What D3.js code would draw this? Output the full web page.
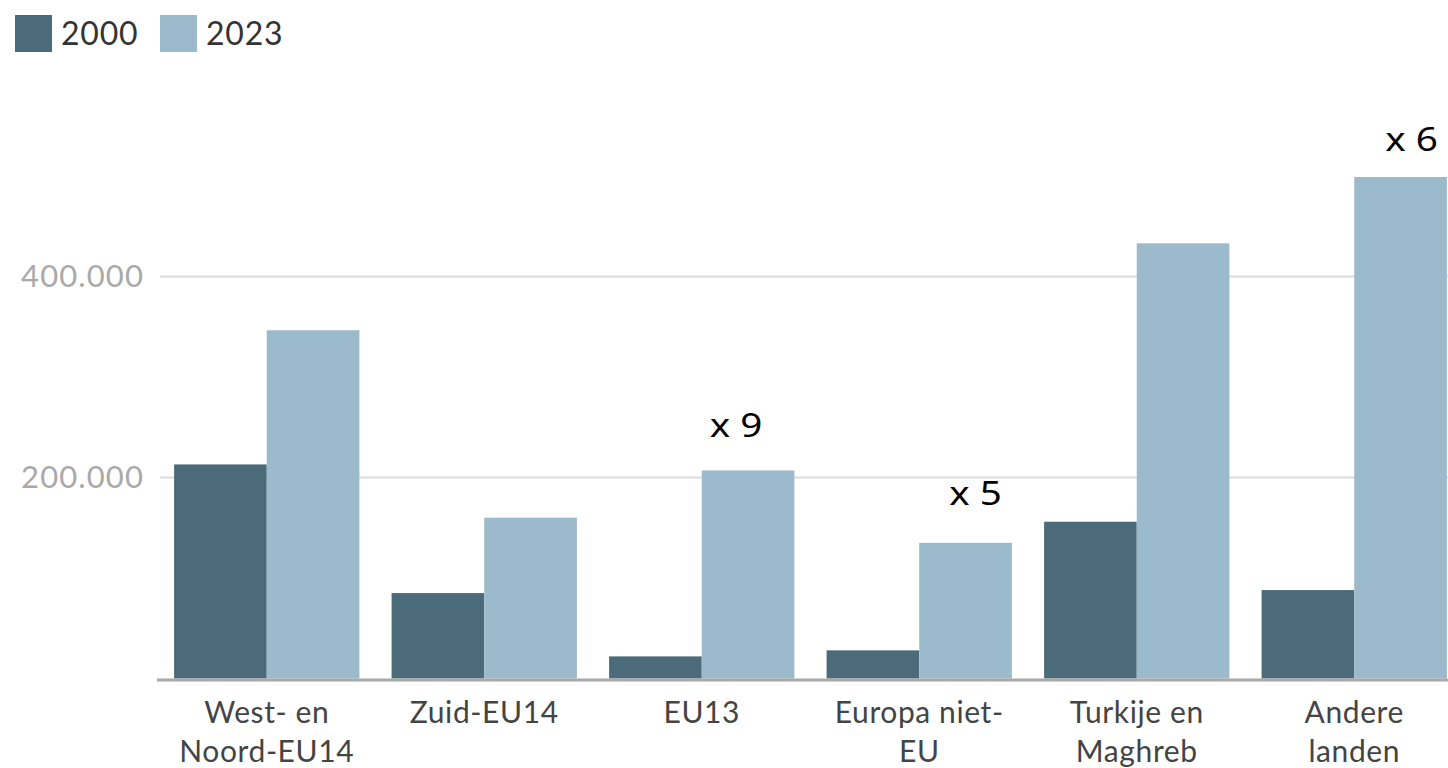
<!DOCTYPE html>
<html>
<head>
<meta charset="utf-8">
<script src="https://cdn.jsdelivr.net/npm/d3@7/dist/d3.min.js"></script>
<style>
  html, body { margin: 0; padding: 0; background: #fff; }
  svg { display: block; }
</style>
</head>
<body>
<svg id="chart" width="1448" height="768"></svg>
<script>
// ---- data ----
const categories = [
  ["West- en", "Noord-EU14"],
  ["Zuid-EU14"],
  ["EU13"],
  ["Europa niet-", "EU"],
  ["Turkije en", "Maghreb"],
  ["Andere", "landen"]
];
const seriesNames = ["2000", "2023"];
const values2000 = [213000, 85000, 22000, 28000, 156000, 88000];
const values2023 = [346500, 160000, 207000, 135000, 433000, 499000];
const yTicks = [200000, 400000];
const tickLabels = ["200.000", "400.000"];
const annotations = [
  { cat: 2, text: "x 9" },
  { cat: 3, text: "x 5" },
  { cat: 5, text: "x 6" }
];

// ---- layout / style ----
const colors = ["#4b6b7b", "#9bbacb"];
const svg = d3.select("#chart");
const W = 1448, H = 768;
const baseY = 678.5;

const x0 = d3.scaleBand()
  .domain(d3.range(categories.length))
  .range([158, 1463])
  .paddingInner(0.148)
  .paddingOuter(0.074);
const x1 = d3.scaleBand()
  .domain(seriesNames)
  .range([0, x0.bandwidth()]);
const y = d3.scaleLinear()
  .domain([0, 200000])
  .range([baseY, baseY - 201]);

// gridlines
svg.append("g").selectAll("line").data(yTicks).join("line")
  .attr("x1", 160).attr("x2", W)
  .attr("y1", d => y(d)).attr("y2", d => y(d))
  .attr("stroke", "#dcdcdc").attr("stroke-width", 2);

// y tick labels
svg.append("g").selectAll("text").data(yTicks).join("text")
  .attr("x", 144).attr("y", d => y(d))
  .attr("dy", "0.35em")
  .attr("text-anchor", "end")
  .attr("font-family", "Lato, sans-serif")
  .attr("font-size", 31)
  .attr("letter-spacing", 1.1)
  .attr("fill", "#a9a9a9")
  .text((d, i) => tickLabels[i]);

// bars
const rows = categories.map((c, i) => ({ i, vals: [values2000[i], values2023[i]] }));
const groups = svg.append("g").selectAll("g").data(rows).join("g")
  .attr("transform", d => `translate(${x0(d.i)},0)`);
groups.selectAll("rect")
  .data(d => d.vals.map((v, k) => ({ key: seriesNames[k], v, k })))
  .join("rect")
  .attr("x", d => x1(d.key))
  .attr("width", x1.bandwidth())
  .attr("y", d => y(d.v))
  .attr("height", d => y(0) - y(d.v))
  .attr("fill", d => colors[d.k]);

// baseline axis
svg.append("line")
  .attr("x1", 157).attr("x2", W)
  .attr("y1", baseY + 1.5).attr("y2", baseY + 1.5)
  .attr("stroke", "#a8a8a8").attr("stroke-width", 3);

// x labels
const xl = svg.append("g").selectAll("text").data(categories).join("text")
  .attr("text-anchor", "middle")
  .attr("font-family", "Lato, sans-serif")
  .attr("font-size", 30)
  .attr("letter-spacing", 0.6)
  .attr("fill", "#444")
  .attr("transform", (d, i) => `translate(${x0(i) + x0.bandwidth() / 2},723)`);
xl.selectAll("tspan").data(d => d).join("tspan")
  .attr("x", 0)
  .attr("dy", (d, j) => j === 0 ? 0 : 39)
  .text(d => d);

// annotations
const annoDx = [-12, 10, 11];
const annoDy = [-33, -38, -26];
svg.append("g").selectAll("text").data(annotations).join("text")
  .attr("transform", (d, i) => {
    const ax = x0(d.cat) + x1("2023") + x1.bandwidth() / 2 + annoDx[i];
    const ay = y(values2023[d.cat]) + annoDy[i];
    return `translate(${ax},${ay}) scale(1.17,1)`;
  })
  .attr("text-anchor", "middle")
  .attr("font-family", "'Noto Sans', 'Open Sans', sans-serif")
  .attr("font-size", 33)
  .attr("fill", "#000")
  .text(d => d.text);

// legend
const leg = svg.append("g").selectAll("g").data(seriesNames).join("g")
  .attr("transform", (d, i) => `translate(${[15, 160][i]},15)`);
leg.append("rect").attr("width", 37).attr("height", 37)
  .attr("fill", (d, i) => colors[i]);
leg.append("text")
  .attr("x", 46).attr("y", 18.5).attr("dy", "0.36em")
  .attr("font-family", "Lato, sans-serif")
  .attr("font-size", 32)
  .attr("letter-spacing", 0.8)
  .attr("fill", "#333")
  .text(d => d);
</script>
</body>
</html>
